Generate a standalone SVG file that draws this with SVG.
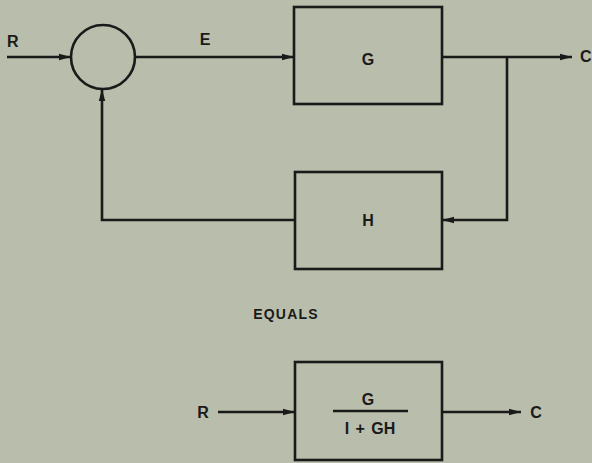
<svg xmlns="http://www.w3.org/2000/svg" width="592" height="463" viewBox="0 0 592 463">
<defs>
<marker id="ah" viewBox="0 0 12 8" refX="12" refY="4" markerWidth="12" markerHeight="8" markerUnits="userSpaceOnUse" orient="auto">
<path d="M0,0.8 L12,4 L0,7.2 z" fill="#1a1a1a"/>
</marker>
<style>
.bg{fill:#b9bdab}
.box{fill:none;stroke:#1a1a1a;stroke-width:2.6}
.ln{fill:none;stroke:#1a1a1a;stroke-width:2.6}
.arr{fill:none;stroke:#1a1a1a;stroke-width:2.6;marker-end:url(#ah)}
.t{font-family:"Liberation Sans",Arial,sans-serif;font-weight:bold;font-size:16px;fill:#1a1a1a}
.s{font-family:"Liberation Sans",Arial,sans-serif;font-weight:bold;font-size:14px;fill:#1a1a1a;letter-spacing:1.2px}
</style>
</defs>
<rect class="bg" x="0" y="0" width="592" height="463"/>
<g id="connectors">
<path class="arr" d="M7,57 L71,57"/>
<path class="arr" d="M135,57 L294,57"/>
<path class="arr" d="M442,57 L572,57"/>
<path class="arr" d="M507,57 L507,220 L442,220"/>
<path class="arr" d="M295,220 L102,220 L102,89"/>
<path class="arr" d="M218,412 L295,412"/>
<path class="arr" d="M442,412 L521,412"/>
</g>
<g id="sum">
<circle class="box" cx="103" cy="57" r="32"/>
</g>
<g id="G">
<rect class="box" x="294" y="7" width="148" height="97"/>
<text class="t" x="368" y="65" text-anchor="middle">G</text>
</g>
<g id="H">
<rect class="box" x="295" y="172" width="147" height="97"/>
<text class="t" x="368" y="226" text-anchor="middle">H</text>
</g>
<g id="CL">
<rect class="box" x="295" y="362" width="147" height="98"/>
<text class="t" x="368" y="405" text-anchor="middle">G</text>
<line class="ln" x1="333" y1="411" x2="408" y2="411"/>
<text class="t" x="370" y="434" text-anchor="middle" word-spacing="2">I + GH</text>
</g>
<g id="labels">
<text class="t" x="7" y="47">R</text>
<text class="t" x="205" y="45" text-anchor="middle">E</text>
<text class="t" x="580" y="62" font-size="15">C</text>
<text class="s" x="286" y="319" text-anchor="middle">EQUALS</text>
<text class="t" x="203" y="418" text-anchor="middle">R</text>
<text class="t" x="536" y="418" text-anchor="middle">C</text>
</g>
</svg>
